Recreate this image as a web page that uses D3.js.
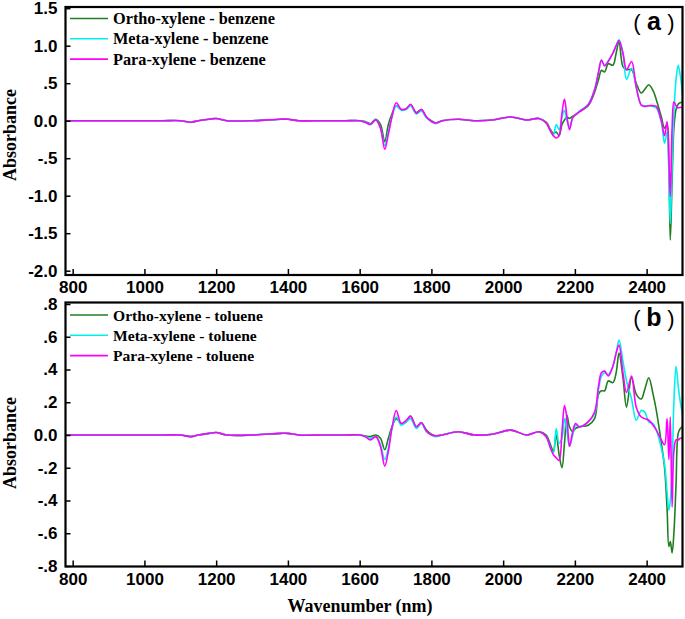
<!DOCTYPE html>
<html><head><meta charset="utf-8">
<script src="https://cdn.jsdelivr.net/npm/d3@7/dist/d3.min.js"></script>
<style>body{margin:0;background:#fff}svg{display:block}</style>
</head><body><svg id="c" width="685" height="619"></svg>
<script>
const wavenumbers = [780,850,950,1050,1100,1130,1150,1180,1200,1230,1300,1380,1400,1430,1500,1560,1600,1615,1630,1645,1658,1670,1680,1690,1702,1716,1730,1742,1758,1772,1786,1800,1812,1830,1875,1920,1970,2022,2065,2100,2120,2132,2140,2148,2156,2164,2171,2178,2185,2194,2202,2213,2237,2255,2266,2274,2283,2293,2306,2315,2323,2334,2344,2358,2371,2385,2395,2406,2418,2427,2441,2450,2457,2462,2466,2471,2476,2482,2488,2494,2500];

const orthoBenzene = [0,0,0,0,0,-0.02,0,0.02,0.03,0,0,0.02,0.02,0,0,0,0,-0.01,-0.04,0.02,-0.05,-0.28,-0.05,0.09,0.2,0.15,0.16,0.21,0.11,0.15,0.05,0,-0.03,0,0.02,0,0.01,0.05,0.01,0.03,-0.02,-0.12,-0.17,-0.15,-0.2,-0.05,0.01,0.05,0.03,0.06,0.08,0.12,0.2,0.38,0.55,0.67,0.65,0.76,0.74,0.9,1.06,0.72,0.68,0.68,0.5,0.37,0.42,0.48,0.4,0.28,0.05,-0.1,-0.05,-0.6,-1.59,-0.8,-0.1,0.15,0.22,0.24,0.25];
const metaBenzene = [0,0,0,0,0,-0.02,0,0.02,0.03,0,0,0.02,0.02,0,0,0,0,-0.02,-0.05,0.01,-0.1,-0.33,-0.15,0.05,0.2,0.14,0.15,0.2,0.09,0.13,0.04,-0.01,-0.04,0,0.02,0,0.01,0.05,0.01,0.03,-0.03,-0.14,-0.2,-0.05,-0.12,0.05,0.14,0,-0.08,0.04,0.08,0.13,0.22,0.42,0.65,0.8,0.74,0.8,0.9,1.0,1.08,0.9,0.55,0.7,0.45,0.21,0.2,0.2,0.19,0.17,-0.02,-0.3,-0.15,-0.7,-1.37,-0.6,0.1,0.55,0.74,0.6,0.34];
const paraBenzene = [0,0,0,0,0,-0.02,0,0.02,0.03,0,0,0.02,0.02,0,0,0,0,-0.02,-0.05,0.01,-0.1,-0.38,-0.18,0.05,0.24,0.15,0.16,0.22,0.1,0.15,0.05,-0.01,-0.03,0,0.02,0,0.01,0.05,0.01,0.03,-0.03,-0.14,-0.2,-0.23,-0.2,0.1,0.29,0.05,-0.12,0.04,0.08,0.12,0.21,0.41,0.65,0.81,0.73,0.79,0.9,1.0,1.07,0.9,0.68,0.79,0.45,0.21,0.19,0.2,0.2,0.19,0,-0.2,-0.01,-0.5,-1.01,-0.1,0.25,0.2,0.17,0.18,0.17];

const orthoToluene = [0,0,0,0,0,-0.01,0,0.01,0.015,0,0,0.01,0.01,0,0,0,0,-0.005,-0.01,0,-0.02,-0.09,-0.02,0.05,0.1,0.07,0.08,0.115,0.05,0.075,0.03,0.005,-0.005,0,0.02,0,0.005,0.03,0,0.02,0,-0.06,-0.1,0,-0.12,-0.2,-0.05,0.12,0.05,0.02,0.04,0.05,0.06,0.1,0.25,0.27,0.27,0.33,0.32,0.38,0.5,0.35,0.17,0.35,0.25,0.22,0.28,0.35,0.25,0.15,-0.05,-0.2,-0.45,-0.68,-0.65,-0.72,-0.6,-0.3,0.01,0.04,0.05];
const metaToluene = [0,0,0,0,0,-0.01,0,0.01,0.015,0,0,0.01,0.01,0,0,0,0,-0.01,-0.02,-0.01,-0.06,-0.15,-0.08,0.04,0.11,0.06,0.08,0.1,0.04,0.07,0.02,0,-0.01,0,0.02,0,0.005,0.03,0,0.02,-0.01,-0.08,-0.11,0.04,-0.05,-0.02,0.1,0.02,-0.07,0,0.06,0.05,0.08,0.13,0.28,0.36,0.38,0.37,0.42,0.5,0.58,0.45,0.33,0.22,0.09,0.15,0.14,0.08,0.07,0.03,-0.08,-0.18,-0.35,-0.46,-0.4,-0.2,0.2,0.42,0.3,0.2,0.13];
const paraToluene = [0,0,0,0,0,-0.01,0,0.01,0.015,0,0,0.01,0.01,0,0,0,0,-0.01,-0.03,-0.01,-0.07,-0.19,-0.1,0.04,0.15,0.07,0.09,0.115,0.05,0.075,0.025,0,-0.005,0,0.02,0,0.005,0.03,0,0.02,-0.01,-0.08,-0.12,-0.14,-0.155,0.02,0.18,0.1,-0.07,0.02,0.07,0.05,0.08,0.14,0.3,0.38,0.39,0.36,0.42,0.5,0.55,0.38,0.26,0.36,0.17,0.11,0.1,0.09,0.06,0.03,-0.03,-0.06,0.1,-0.15,0.11,-0.44,-0.1,-0.03,-0.03,-0.02,-0.02];

const xTicks = [800,1000,1200,1400,1600,1800,2000,2200,2400];
const yTicksA = [-2,-1.5,-1,-0.5,0,0.5,1,1.5];
const yTicksB = [-0.8,-0.6,-0.4,-0.2,0,0.2,0.4,0.6,0.8];
const legendA = ["Ortho-xylene - benzene","Meta-xylene - benzene","Para-xylene - benzene"];
const legendB = ["Ortho-xylene - toluene","Meta-xylene - toluene","Para-xylene - toluene"];
const colors = ["#1f7f1f","#00f0f0","#ff00ff"];

const svg = d3.select("#c");
const L = 65.5, R = 682.5;
const x = d3.scaleLinear().domain([780,2500]).range([L,R]);
const fmt = v => { if (Math.abs(v) < 1e-9) return "0.0"; let s = (Math.abs(v) < 1 ? Math.abs(v).toFixed(1).replace(/^0/,"") : Math.abs(v).toFixed(1)); return (v<0?"-":"")+s; };

function panel(cfg){
  const y = d3.scaleLinear().domain(cfg.ydom).range(cfg.yrange);
  const g = svg.append("g");
  const clipId = "clip"+cfg.id;
  svg.append("clipPath").attr("id",clipId).append("rect").attr("x",L).attr("y",cfg.top).attr("width",R-L).attr("height",cfg.bottom-cfg.top);
  const line = d3.line().x((d,i)=>x(wavenumbers[i])).y(d=>y(d)).curve(d3.curveCatmullRom.alpha(0.5));
  cfg.series.forEach((s,k)=>{
    g.append("path").attr("d",line(s)).attr("fill","none").attr("stroke",colors[k]).attr("stroke-width",1.6).attr("clip-path",`url(#${clipId})`);
  });
  const ya = d3.axisLeft(y).tickValues(cfg.yticks).tickFormat(fmt).tickSizeInner(-5).tickSizeOuter(0).tickPadding(8);
  const yg = g.append("g").attr("transform",`translate(${L},0)`).call(ya);
  yg.select(".domain").remove();
  yg.selectAll("text").attr("font-family","Liberation Sans, Arial, sans-serif").attr("font-weight","bold").attr("font-size",17).attr("fill","#000");
  yg.selectAll("line").attr("stroke","#000").attr("stroke-width",1.5);
  const xa = d3.axisBottom(x).tickValues(xTicks).tickFormat(d3.format("d")).tickSizeInner(-6).tickSizeOuter(0).tickPadding(cfg.xpad);
  const xg = g.append("g").attr("transform",`translate(0,${cfg.bottom})`).call(xa);
  xg.select(".domain").remove();
  xg.selectAll("text").attr("font-family","Liberation Sans, Arial, sans-serif").attr("font-weight","bold").attr("font-size",17).attr("fill","#000");
  xg.selectAll("line").attr("stroke","#000").attr("stroke-width",1.5);
  g.append("rect").attr("x",L).attr("y",cfg.top).attr("width",R-L).attr("height",cfg.bottom-cfg.top).attr("fill","none").attr("stroke","#000").attr("stroke-width",2.2);
  cfg.legend.forEach((t,k)=>{
    const yy = cfg.legY + k*20.3;
    g.append("line").attr("x1",70).attr("x2",108).attr("y1",yy).attr("y2",yy).attr("stroke",colors[k]).attr("stroke-width",1.6);
    g.append("text").attr("x",113).attr("y",yy+5.5).text(t).attr("font-family","Liberation Serif, Times New Roman, serif").attr("font-weight","bold").attr("font-size",cfg.legFs).attr("fill","#000");
  });
  g.append("text").attr("transform",`translate(16,${cfg.ylabY}) rotate(-90)`).attr("text-anchor","middle").text("Absorbance").attr("font-family","Liberation Serif, Times New Roman, serif").attr("font-weight","bold").attr("font-size",18).attr("fill","#000");
  // panel tag: parentheses + letter
  const ty = cfg.top + 23;
  const parts = [["(",637,"normal"],[cfg.tag,654,"bold"],[")",671,"normal"]];
  parts.forEach(p=>{
    g.append("text").attr("x",p[1]).attr("y",ty).attr("text-anchor","middle").text(p[0]).attr("font-family","Liberation Sans, Arial, sans-serif").attr("font-weight",p[2]).attr("font-size",p[2]==="bold"?25:22).attr("fill","#000");
  });
}

panel({id:"a",ydom:[-2,1.5],yrange:[270.7,8.2],top:7,bottom:275,yticks:yTicksA,series:[orthoBenzene,metaBenzene,paraBenzene],legend:legendA,legY:18.5,legFs:16.3,ylabY:135,tag:"a",xpad:6});
panel({id:"b",ydom:[-0.8,0.8],yrange:[566,304],top:302.5,bottom:566.5,yticks:yTicksB,series:[orthoToluene,metaToluene,paraToluene],legend:legendB,legY:315,legFs:15.6,ylabY:443,tag:"b",xpad:6});

svg.append("text").attr("x",360).attr("y",612).attr("text-anchor","middle").text("Wavenumber (nm)").attr("font-family","Liberation Serif, Times New Roman, serif").attr("font-weight","bold").attr("font-size",18).attr("fill","#000");
</script></body></html>
